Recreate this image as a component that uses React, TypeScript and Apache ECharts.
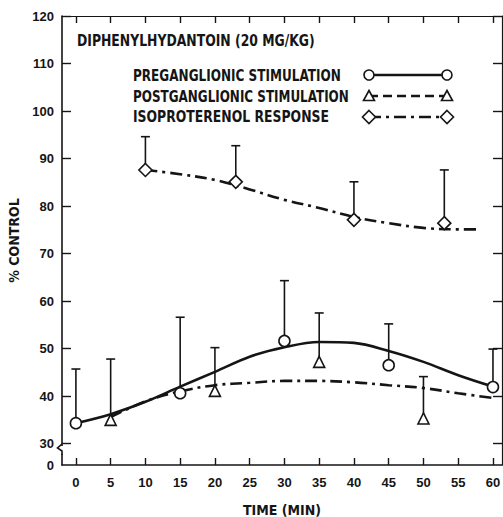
import React, { useEffect, useRef } from 'react';
import * as echarts from 'echarts';

// ---- data ----
const xTickValues = [0, 5, 10, 15, 20, 25, 30, 35, 40, 45, 50, 55, 60];
const yTickValues = [30, 40, 50, 60, 70, 80, 90, 100, 110, 120];
const yBottom = 25.5; // drawn as "0" (axis break between 0 and 30)

const preTimes = [0, 15, 30, 45, 60];
const preMeans = [34.3, 40.6, 51.6, 46.5, 41.9];
const preUpper = [45.7, 56.6, 64.3, 55.2, 49.9];

const postTimes = [5, 20, 35, 50];
const postMeans = [35.0, 41.1, 47.2, 35.3];
const postUpper = [47.8, 50.2, 57.5, 44.1];

const isoTimes = [10, 23, 40, 53];
const isoMeans = [87.6, 85.1, 77.1, 76.4];
const isoUpper = [94.6, 92.7, 85.1, 87.6];

const preFitTimes = [0, 5, 10, 15, 20, 25, 30, 35, 40, 45, 50, 55, 60];
const preFitValues = [34.3, 36.2, 38.8, 42.0, 45.1, 48.3, 50.3, 51.4, 51.2, 49.5, 47.2, 44.4, 42.0];

const postFitTimes = [5, 10, 15, 20, 25, 30, 35, 40, 45, 50, 55, 60];
const postFitValues = [35.6, 38.9, 41.0, 42.3, 42.8, 43.2, 43.2, 42.9, 42.3, 41.7, 40.6, 39.6];

const isoFitTimes = [10, 15, 20, 25, 30, 35, 40, 45, 50, 55, 58];
const isoFitValues = [87.6, 86.7, 85.5, 83.5, 81.3, 79.6, 77.7, 76.4, 75.4, 75.1, 75.1];

const titleText = 'DIPHENYLHYDANTOIN (20 MG/KG)';
const legendNames = ['PREGANGLIONIC STIMULATION', 'POSTGANGLIONIC STIMULATION', 'ISOPROTERENOL RESPONSE'];

const INK = '#151515';
const FONT = '"DejaVu Sans Condensed", "DejaVu Sans", sans-serif';
const NUMFONT = '"Liberation Sans", "DejaVu Sans", sans-serif';
const DASHDOT = [12, 5, 3, 5];

function measure(text: string, size: number): number {
  const c = document.createElement('canvas').getContext('2d');
  if (!c) return text.length * size * 0.6;
  c.font = `bold ${size}px ${FONT}`;
  return c.measureText(text).width;
}

// a bold label squeezed horizontally to a given width (lettering of the original is narrow)
function squeezedText(text: string, x: number, y: number, width: number, size = 16) {
  const w = measure(text, size);
  return {
    type: 'text', x, y, z: 100, scaleX: width / w, scaleY: 1, originX: 0, originY: 0,
    style: { text, fill: INK, fontFamily: FONT, fontWeight: 'bold', fontSize: size, verticalAlign: 'middle', align: 'left' },
  };
}

function errorSeries(times: number[], means: number[], upper: number[]) {
  return {
    type: 'custom',
    silent: true,
    z: 2,
    encode: { x: 0, y: [1, 2] },
    data: times.map((t, i) => [t, means[i], upper[i]]),
    renderItem: (params: any, api: any) => {
      const p1 = api.coord([api.value(0), api.value(1)]);
      const p2 = api.coord([api.value(0), api.value(2)]);
      const hw = 4.5;
      return {
        type: 'group',
        children: [
          { type: 'line', shape: { x1: p1[0], y1: p1[1], x2: p2[0], y2: p2[1] }, style: { stroke: INK, lineWidth: 1.6 } },
          { type: 'line', shape: { x1: p2[0] - hw, y1: p2[1], x2: p2[0] + hw, y2: p2[1] }, style: { stroke: INK, lineWidth: 1.6 } },
        ],
      };
    },
  };
}

function pointSeries(name: string, times: number[], means: number[], symbol: string, size: number) {
  return {
    name,
    type: 'scatter',
    z: 5,
    symbol,
    symbolSize: size,
    data: times.map((t, i) => [t, means[i]]),
    itemStyle: { color: '#fff', borderColor: INK, borderWidth: 1.6, opacity: 1 },
  };
}

function fitSeries(times: number[], values: number[], type: any) {
  return {
    type: 'line',
    z: 3,
    smooth: 0.35,
    showSymbol: false,
    silent: true,
    data: times.map((t, i) => [t, values[i]]),
    lineStyle: { color: INK, width: 2.6, type },
  };
}

function legendGraphics() {
  const els: any[] = [];
  const ys = [75, 96, 117];
  const widths = [208, 216, 196];
  const x1 = 369, x2 = 447;
  const types: any[] = ['solid', [9, 5], DASHDOT];
  ys.forEach((y, i) => {
    els.push(squeezedText(legendNames[i], 133, y, widths[i]));
    els.push({
      type: 'line', z: 100,
      shape: { x1, y1: y, x2, y2: y },
      style: { stroke: INK, lineWidth: 2.4, lineDash: types[i] === 'solid' ? null : types[i] },
    });
    [x1, x2].forEach((cx) => {
      if (i === 0) {
        els.push({ type: 'circle', z: 101, shape: { cx, cy: y, r: 5 }, style: { fill: '#fff', stroke: INK, lineWidth: 1.6 } });
      } else if (i === 1) {
        els.push({ type: 'polygon', z: 101, shape: { points: [[cx, y - 5.5], [cx + 5.5, y + 4.5], [cx - 5.5, y + 4.5]] }, style: { fill: '#fff', stroke: INK, lineWidth: 1.6 } });
      } else {
        els.push({ type: 'polygon', z: 101, shape: { points: [[cx, y - 6.5], [cx + 6.5, y], [cx, y + 6.5], [cx - 6.5, y]] }, style: { fill: '#fff', stroke: INK, lineWidth: 1.6 } });
      }
    });
  });
  els.push(squeezedText(titleText, 77, 41, 238));
  // axis break mark on the left axis
  els.push({ type: 'rect', z: 100, shape: { x: 59, y: 446, width: 6, height: 8 }, style: { fill: '#fff' } });
  els.push({
    type: 'polyline', z: 101,
    shape: { points: [[62, 444], [57.5, 448], [62, 451], [62, 455]] },
    style: { stroke: INK, lineWidth: 1.6, fill: null },
  });
  return els;
}

export default function App() {
  const ref = useRef<HTMLDivElement>(null);
  useEffect(() => {
    if (!ref.current) return;
    const chart = echarts.init(ref.current, null, { renderer: 'svg' });
    const axisCommon = {
      type: 'value',
      axisLine: { show: true, onZero: false, lineStyle: { color: INK, width: 1.6 } },
      axisTick: { show: true, inside: true, length: 7, lineStyle: { color: INK, width: 1.4 } },
      splitLine: { show: false },
    };
    chart.setOption({
      animation: false,
      backgroundColor: '#fff',
      textStyle: { fontFamily: FONT, color: INK },
      grid: { left: 62, right: 1, top: 16, bottom: 52, containLabel: false, outerBoundsMode: 'none' },
      xAxis: [
        {
          ...axisCommon,
          position: 'bottom',
          min: -2,
          max: 61.3,
          name: 'TIME (MIN)',
          nameLocation: 'middle',
          nameGap: 38,
          nameTextStyle: { fontFamily: FONT, fontWeight: 'bold', fontSize: 14, color: INK },
          axisTick: { ...axisCommon.axisTick, customValues: xTickValues },
          axisLabel: { customValues: xTickValues, margin: 11, fontFamily: NUMFONT, fontWeight: 'bold', fontSize: 13, color: INK },
        },
        {
          ...axisCommon,
          position: 'top',
          min: -2,
          max: 61.3,
          axisTick: { ...axisCommon.axisTick, customValues: xTickValues },
          axisLabel: { show: false },
          axisLine: { show: true, onZero: false, lineStyle: { color: INK, width: 1.2 } },
        },
      ],
      yAxis: [
        {
          ...axisCommon,
          position: 'left',
          min: yBottom,
          max: 120,
          name: '% CONTROL',
          nameLocation: 'middle',
          nameGap: 34,
          nameTextStyle: { fontFamily: FONT, fontWeight: 'bold', fontSize: 14, color: INK },
          axisTick: { ...axisCommon.axisTick, length: 9, customValues: yTickValues },
          axisLabel: {
            customValues: [yBottom, ...yTickValues],
            margin: 8,
            fontFamily: NUMFONT,
            fontWeight: 'bold',
            fontSize: 13,
            color: INK,
            formatter: (v: number) => (v < 29 ? '0' : String(v)),
          },
        },
        {
          ...axisCommon,
          position: 'right',
          min: yBottom,
          max: 120,
          axisTick: { ...axisCommon.axisTick, length: 9, customValues: yTickValues },
          axisLabel: { show: false },
          axisLine: { show: true, onZero: false, lineStyle: { color: INK, width: 1.2 } },
        },
      ],
      graphic: legendGraphics(),
      series: [
        fitSeries(preFitTimes, preFitValues, 'solid'),
        fitSeries(postFitTimes, postFitValues, DASHDOT),
        fitSeries(isoFitTimes, isoFitValues, DASHDOT),
        errorSeries(preTimes, preMeans, preUpper),
        errorSeries(postTimes, postMeans, postUpper),
        errorSeries(isoTimes, isoMeans, isoUpper),
        pointSeries(legendNames[0], preTimes, preMeans, 'circle', 11),
        pointSeries(legendNames[1], postTimes, postMeans, 'triangle', 11),
        pointSeries(legendNames[2], isoTimes, isoMeans, 'diamond', 13),
      ],
    });
    return () => chart.dispose();
  }, []);
  return (
    <div
      ref={ref}
      style={{ position: 'fixed', left: 0, top: 0, width: 503, height: 517, background: '#fff' }}
    />
  );
}
